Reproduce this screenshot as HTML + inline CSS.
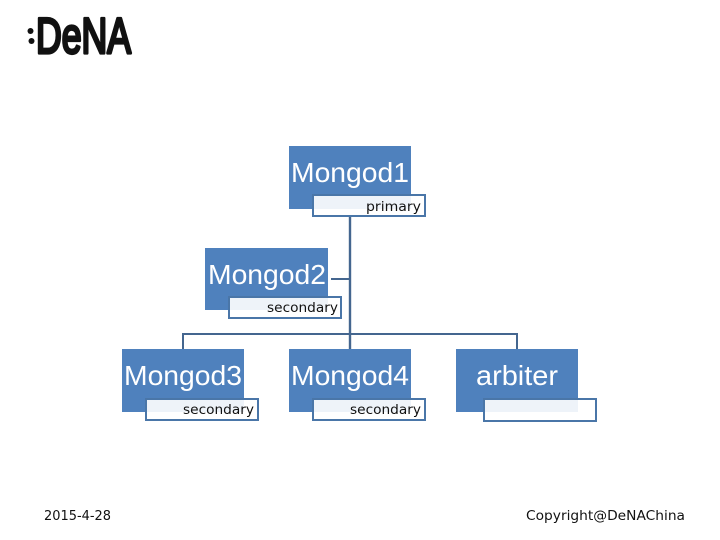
<!DOCTYPE html>
<html>
<head>
<meta charset="utf-8">
<style>
html,body{margin:0;padding:0;background:#fff;width:720px;height:540px;overflow:hidden}
svg{display:block}
text{font-family:"Liberation Sans",sans-serif}
.s text{font-family:"DejaVu Sans",sans-serif}
</style>
</head>
<body>
<svg width="720" height="540" viewBox="0 0 720 540" xmlns="http://www.w3.org/2000/svg">
  <rect width="720" height="540" fill="#fff"/>

  <!-- logo -->
  <circle cx="30.5" cy="31" r="3" fill="#111"/>
  <circle cx="31.5" cy="41" r="3" fill="#111"/>
  <text x="36" y="53" font-size="50" textLength="95" lengthAdjust="spacingAndGlyphs" fill="#111" stroke="#111" stroke-width="3.2" stroke-linejoin="round">DeNA</text>

  <!-- connectors -->
  <g stroke="#44668f" stroke-width="2" fill="none">
    <path d="M350 217V349" stroke-width="2.4"/>
    <path d="M331 279H350"/>
    <path d="M183 349V334H517V349"/>
  </g>

  <!-- nodes -->
  <g fill="#4f81bd">
    <rect x="289" y="146" width="122" height="63"/>
    <rect x="205" y="248" width="123" height="62"/>
    <rect x="122" y="349" width="122" height="63"/>
    <rect x="289" y="349" width="122" height="63"/>
    <rect x="456" y="349" width="122" height="63"/>
  </g>

  <!-- node labels -->
  <g fill="#fff" font-size="28">
    <text x="291" y="182" textLength="118" lengthAdjust="spacingAndGlyphs">Mongod1</text>
    <text x="208" y="284" textLength="118" lengthAdjust="spacingAndGlyphs">Mongod2</text>
    <text x="124" y="385" textLength="118" lengthAdjust="spacingAndGlyphs">Mongod3</text>
    <text x="291" y="385" textLength="118" lengthAdjust="spacingAndGlyphs">Mongod4</text>
    <text x="476" y="385" textLength="82" lengthAdjust="spacingAndGlyphs">arbiter</text>
  </g>

  <!-- sublabel boxes -->
  <g fill="#fff" fill-opacity="0.9" stroke="#4a76a8" stroke-width="2">
    <rect x="313" y="195" width="112" height="21"/>
    <rect x="229" y="297" width="112" height="21"/>
    <rect x="146" y="399" width="112" height="21"/>
    <rect x="313" y="399" width="112" height="21"/>
    <rect x="484" y="399" width="112" height="22"/>
  </g>

  <!-- sublabel text -->
  <g class="s" fill="#111" font-size="13">
    <text x="366" y="211" textLength="55" lengthAdjust="spacingAndGlyphs">primary</text>
    <text x="267" y="312" textLength="71" lengthAdjust="spacingAndGlyphs">secondary</text>
    <text x="183" y="414" textLength="71" lengthAdjust="spacingAndGlyphs">secondary</text>
    <text x="350" y="414" textLength="71" lengthAdjust="spacingAndGlyphs">secondary</text>
  </g>

  <!-- footer -->
  <g class="s" fill="#111" font-size="13">
    <text x="44" y="520" textLength="67" lengthAdjust="spacingAndGlyphs">2015-4-28</text>
    <text x="526" y="520" textLength="159" lengthAdjust="spacingAndGlyphs">Copyright@DeNAChina</text>
  </g>
</svg>
</body>
</html>
